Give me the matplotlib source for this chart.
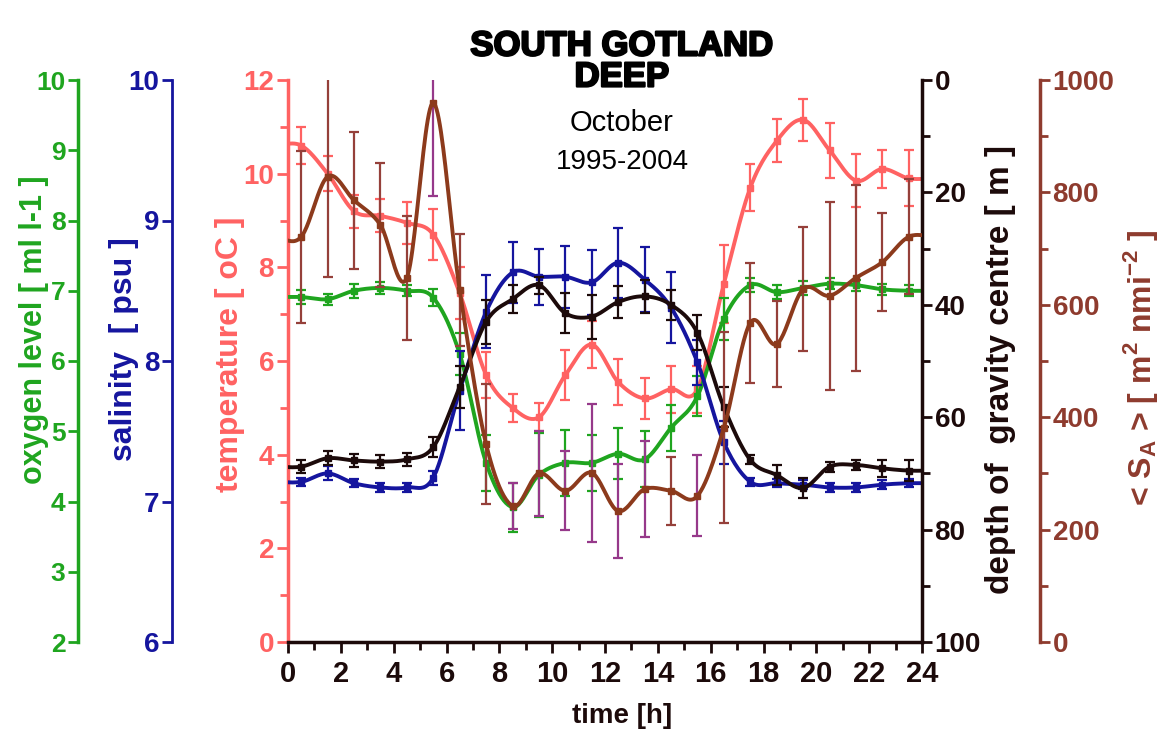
import numpy as np
import matplotlib

matplotlib.use("Agg")
import matplotlib.pyplot as plt
import matplotlib.patheffects as pe
from matplotlib.ticker import MultipleLocator

# hourly means, October 1995-2004, South Gotland Deep
HOURS = [0.5, 1.5, 2.5, 3.5, 4.5, 5.5, 6.5, 7.5, 8.5, 9.5, 10.5, 11.5,
         12.5, 13.5, 14.5, 15.5, 16.5, 17.5, 18.5, 19.5, 20.5, 21.5, 22.5, 23.5]

TEMP = [10.6, 10.0, 9.2, 9.1, 8.95, 8.7, 7.45, 5.7, 5.0, 4.8, 5.7, 6.35,
        5.55, 5.2, 5.4, 5.4, 7.65, 9.7, 10.7, 11.15, 10.5, 9.85, 10.1, 9.9]
TEMP_ERR = [0.4, 0.37, 0.35, 0.35, 0.45, 0.55, 0.55, 0.5, 0.3, 0.3, 0.53, 0.5,
            0.5, 0.44, 0.5, 0.5, 0.83, 0.5, 0.46, 0.45, 0.59, 0.57, 0.41, 0.6]

OXYGEN = [6.91, 6.88, 7.0, 7.04, 7.0, 6.9, 6.1, 4.55, 3.92, 4.38, 4.55, 4.55,
          4.68, 4.6, 5.05, 5.5, 6.6, 7.08, 6.98, 7.04, 7.1, 7.08, 7.02, 7.0]
OXYGEN_ERR = [0.1, 0.08, 0.1, 0.08, 0.08, 0.12, 0.3, 0.4, 0.35, 0.6, 0.47, 0.4,
              0.36, 0.4, 0.33, 0.28, 0.3, 0.1, 0.1, 0.1, 0.08, 0.08, 0.08, 0.08]

SALINITY = [7.14, 7.2, 7.13, 7.1, 7.1, 7.17, 7.79, 8.35, 8.63, 8.6, 8.6, 8.56,
            8.7, 8.58, 8.38, 7.99, 7.42, 7.14, 7.13, 7.12, 7.1, 7.1, 7.12, 7.13]
SALINITY_ERR = [0.03, 0.05, 0.03, 0.03, 0.03, 0.05, 0.28, 0.26, 0.22, 0.2, 0.22, 0.23,
                0.25, 0.23, 0.25, 0.16, 0.15, 0.03, 0.03, 0.03, 0.03, 0.03, 0.03, 0.03]

DEPTH = [68.8, 67.3, 67.7, 67.9, 67.5, 65.3, 54.6, 43.0, 39.0, 36.5, 41.5, 42.1,
         39.5, 38.5, 40.0, 45.0, 58.2, 67.6, 70.3, 72.6, 68.8, 68.5, 69.1, 69.5]
DEPTH_ERR = [1.2, 1.2, 1.2, 1.2, 1.2, 1.8, 3.7, 3.9, 2.5, 1.5, 3.6, 3.9,
             2.8, 2.9, 2.7, 3.1, 3.5, 0.8, 1.8, 1.8, 0.9, 0.9, 1.5, 1.8]

SA = [721, 828, 786, 742, 648, 959, 626, 352, 242, 300, 269, 301,
      233, 272, 269, 260, 381, 568, 530, 628, 616, 648, 676, 721]
SA_ERR = [153, 178, 122, 110, 110, 165, 100, 107, 41, 75, 70, 123,
          84, 85, 60, 72, 170, 107, 77, 110, 167, 165, 87, 102]

GREEN = "#1fa51f"
BLUE = "#15159e"
SALMON = "#ff6262"
BLACK = "#1c0a0a"
BROWN = "#8c3a1c"
BROWN_AX = "#8e3b2e"
BROWN_BAR = "#95403a"
PURPLE = "#96398a"
PURPLE_HOURS = [5.5, 8.5, 9.5, 10.5, 11.5, 12.5, 13.5, 15.5]  # bars drawn purple in the source

FAM = ["Liberation Sans", "DejaVu Sans"]

W, H = 1172, 740


def smooth(x, y, n=24):
    # Catmull-Rom curve through the means, ends held flat
    x = np.asarray(x, float)
    y = np.asarray(y, float)
    dx = x[1] - x[0]
    xp = np.r_[x[0] - 2 * dx, x[0] - dx, x, x[-1] + dx, x[-1] + 2 * dx]
    yp = np.r_[y[0], y[0], y, y[-1], y[-1]]
    xs, ys = [], []
    tt = np.linspace(0, 1, n, endpoint=False)
    for i in range(1, len(xp) - 2):
        p0, p1, p2, p3 = yp[i - 1], yp[i], yp[i + 1], yp[i + 2]
        ys.append(0.5 * (2 * p1 + (-p0 + p2) * tt + (2 * p0 - 5 * p1 + 4 * p2 - p3) * tt ** 2
                         + (-p0 + 3 * p1 - 3 * p2 + p3) * tt ** 3))
        xs.append(xp[i] + (xp[i + 1] - xp[i]) * tt)
    return np.concatenate(xs), np.concatenate(ys)


def side_axis(ax, side, pos, color, ylim, major, minor=None, lw=2.5, size=20):
    a = ax.twinx()
    a.set_ylim(*ylim)
    for s in a.spines.values():
        s.set_visible(False)
    sp = a.spines[side]
    sp.set_visible(True)
    sp.set_position(("axes", pos))
    sp.set_color(color)
    sp.set_linewidth(lw)
    a.yaxis.set_ticks_position(side)
    a.yaxis.set_major_locator(MultipleLocator(major))
    if minor:
        a.yaxis.set_minor_locator(MultipleLocator(minor))
    a.tick_params(axis="y", which="major", colors=color, length=7, width=2, pad=2)
    a.tick_params(axis="y", which="minor", colors=color, length=6, width=2)
    for t in a.get_yticklabels():
        t.set_fontsize(size)
        t.set_fontweight("bold")
        t.set_family(FAM)
    return a


def series(a, y, err, color, ecolor=None, z=3):
    y = np.asarray(y, float)
    err = np.asarray(err, float)
    hrs = np.asarray(HOURS)
    if ecolor is None:
        a.errorbar(hrs, y, yerr=err, fmt="none", ecolor=color,
                   elinewidth=1.6, capsize=3.5, capthick=1.6, zorder=z)
    else:
        purple = np.isin(hrs, PURPLE_HOURS)
        for m, c in ((~purple, ecolor), (purple, PURPLE)):
            a.errorbar(hrs[m], y[m], yerr=err[m], fmt="none", ecolor=c,
                       elinewidth=1.6, capsize=3.5, capthick=1.6, zorder=z)
    xs, ys = smooth(hrs, y)
    a.plot(xs, ys, color=color, lw=2.8, zorder=z + 1, solid_capstyle="round")
    a.plot(hrs, y, "s", color=color, markersize=4.5, zorder=z + 2)


fig = plt.figure(figsize=(W / 100, H / 100), dpi=100)
fig.patch.set_facecolor("white")

x0, x1, y0, y1 = 288, 922, 80, 642
ax = fig.add_axes([x0 / W, 1 - y1 / H, (x1 - x0) / W, (y1 - y0) / H])
ax.set_xlim(0, 24)
ax.set_ylim(0, 12)
ax.spines["top"].set_visible(False)
ax.spines["right"].set_visible(False)
ax.spines["left"].set_color(SALMON)
ax.spines["left"].set_linewidth(2.5)
ax.spines["bottom"].set_color(BLACK)
ax.spines["bottom"].set_linewidth(2.5)
ax.xaxis.set_major_locator(MultipleLocator(2))
ax.xaxis.set_minor_locator(MultipleLocator(1))
ax.yaxis.set_major_locator(MultipleLocator(2))
ax.yaxis.set_minor_locator(MultipleLocator(1))
ax.tick_params(axis="x", which="major", colors=BLACK, length=8, width=2, pad=5)
ax.tick_params(axis="x", which="minor", colors=BLACK, length=6, width=2)
ax.tick_params(axis="y", which="major", colors=SALMON, length=8, width=2, pad=2)
ax.tick_params(axis="y", which="minor", colors=SALMON, length=6, width=2)
for t in ax.get_xticklabels():
    t.set_fontsize(21)
    t.set_fontweight("bold")
    t.set_family(FAM)
for t in ax.get_yticklabels():
    t.set_fontsize(20)
    t.set_fontweight("bold")
    t.set_family(FAM)

ax_o = side_axis(ax, "left", -210 / (x1 - x0), GREEN, (2, 10), 1, size=19)
ax_s = side_axis(ax, "left", -116 / (x1 - x0), BLUE, (6, 10), 1, lw=2, size=20)
ax_d = side_axis(ax, "right", 1.0, BLACK, (100, 0), 20, 10)
ax_a = side_axis(ax, "right", (1040 - x0) / (x1 - x0), BROWN_AX, (0, 1000), 200, 100)

series(ax_o, OXYGEN, OXYGEN_ERR, GREEN)
series(ax_s, SALINITY, SALINITY_ERR, BLUE)
series(ax, TEMP, TEMP_ERR, SALMON)
series(ax_d, DEPTH, DEPTH_ERR, BLACK)
series(ax_a, SA, SA_ERR, BROWN, ecolor=BROWN_BAR)


# axis titles, placed in figure pixels
def vlabel(x, y, s, color, size=23):
    fig.text(x / W, 1 - y / H, s, rotation=90, ha="center", va="center",
             color=color, fontsize=size, family=FAM, weight="bold")


vlabel(34, 330, "oxygen level [ ml l-1 ]", GREEN, size=22)
vlabel(124, 349, "salinity  [ psu ]", BLUE)
vlabel(230, 354, "temperature [ oC ]", SALMON)
vlabel(1000, 370, "depth of  gravity centre [ m ]", BLACK, size=24)
vlabel(1140, 368, r"< S$_\mathregular{A}$ > [ m$^\mathregular{2}$ nmi$^\mathregular{-2}$ ]", BROWN_AX)

fig.text(622 / W, 1 - 716 / H, "time [h]", ha="center", va="center",
         fontsize=20, color=BLACK, family=FAM, weight="bold")

heavy = [pe.withStroke(linewidth=1.6, foreground="black")]
fig.text(622 / W, 1 - 46 / H, "SOUTH GOTLAND", ha="center", va="center",
         fontsize=25, color="black", path_effects=heavy, family=FAM, weight="bold")
fig.text(622 / W, 1 - 77 / H, "DEEP", ha="center", va="center",
         fontsize=25, color="black", path_effects=heavy, family=FAM, weight="bold")
fig.text(622 / W, 1 - 123 / H, "October", ha="center", va="center",
         fontsize=21, color="black", family=FAM)
fig.text(622 / W, 1 - 162 / H, "1995-2004", ha="center", va="center",
         fontsize=20, color="black", family=FAM)

fig.savefig("out.png", dpi=100, facecolor="white")
